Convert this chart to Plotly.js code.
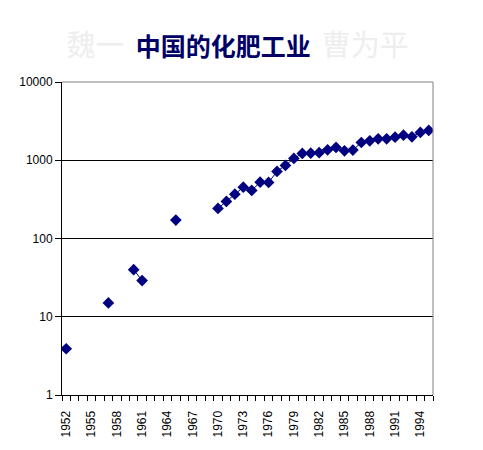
<!DOCTYPE html>
<html>
<head>
<meta charset="utf-8">
<script src="https://cdn.plot.ly/plotly-3.0.1.min.js"></script>
<style>html,body{margin:0;padding:0;background:#fff;}#chart{width:483px;height:450px;}</style>
</head>
<body>
<div id="chart"></div>
<script>
const years = [1952,1953,1954,1955,1956,1957,1958,1959,1960,1961,1962,1963,1964,1965,1966,1967,1968,1969,1970,1971,1972,1973,1974,1975,1976,1977,1978,1979,1980,1981,1982,1983,1984,1985,1986,1987,1988,1989,1990,1991,1992,1993,1994,1995];
const output = [3.9,null,null,null,null,15,null,null,40,29,null,null,null,172,null,null,null,null,242,298,369,453,411,525,520,719,859,1054,1222,1230,1250,1358,1457,1319,1350,1687,1769,1876,1880,1973,2093,1991,2265,2403];
const labelYears = [1952,1955,1958,1961,1964,1967,1970,1973,1976,1979,1982,1985,1988,1991,1994];
const yTicks = [1,10,100,1000,10000];

const trace = {
  x: years, y: output, type: 'scatter', mode: 'lines+markers',
  connectgaps: false,
  line: {color: '#000080', width: 1},
  marker: {symbol: 'diamond', size: 9, color: '#000080'},
  hoverinfo: 'x+y'
};

const layout = {
  width: 483, height: 450,
  margin: {l: 62, r: 50, t: 82, b: 55},
  paper_bgcolor: '#ffffff', plot_bgcolor: '#ffffff',
  showlegend: false,
  font: {family: 'Liberation Sans, Arial, sans-serif', size: 12, color: '#000'},
  title: {
    text: '<span style="color:#eeeeee;font-weight:normal;font-size:29px">魏一</span>  <b>中国的化肥工业</b>  <span style="color:#eeeeee;font-weight:normal;font-size:29px">曹为平</span>',
    font: {family: 'Noto Sans CJK SC, sans-serif', size: 25, color: '#000066'},
    x: 0.492, xanchor: 'center', y: 0.895, yanchor: 'middle'
  },
  xaxis: {
    type: 'linear', range: [1951.5, 1995.5],
    tickmode: 'array', tickvals: labelYears, ticktext: labelYears.map(String),
    ticks: '', tickangle: -90, showgrid: false, zeroline: false,
    ticklabelstandoff: 10,
    showline: true, linecolor: '#000', linewidth: 1, mirror: false,
    tickfont: {size: 12, family: 'Liberation Sans, Arial, sans-serif'},
    minor: {tickmode: 'linear', tick0: 1951.5, dtick: 1, ticks: 'outside', ticklen: 5, tickcolor: '#000', showgrid: false}
  },
  yaxis: {
    type: 'log', range: [0, 4],
    tickmode: 'array', tickvals: yTicks, ticktext: yTicks.map(String),
    ticks: 'outside', ticklen: 6, tickcolor: '#000',
    showgrid: true, gridcolor: '#000', gridwidth: 1,
    showline: true, linecolor: '#000', linewidth: 1,
    zeroline: false,
    tickfont: {size: 12, family: 'Liberation Sans, Arial, sans-serif'}
  },
  shapes: [
    {type: 'line', xref: 'paper', yref: 'paper', x0: 0, x1: 1, y0: 1, y1: 1, line: {color: '#808080', width: 1}},
    {type: 'line', xref: 'paper', yref: 'paper', x0: 1, x1: 1, y0: 0, y1: 1, line: {color: '#808080', width: 1}}
  ]
};

Plotly.newPlot('chart', [trace], layout, {displayModeBar: false, staticPlot: true});
</script>
</body>
</html>
